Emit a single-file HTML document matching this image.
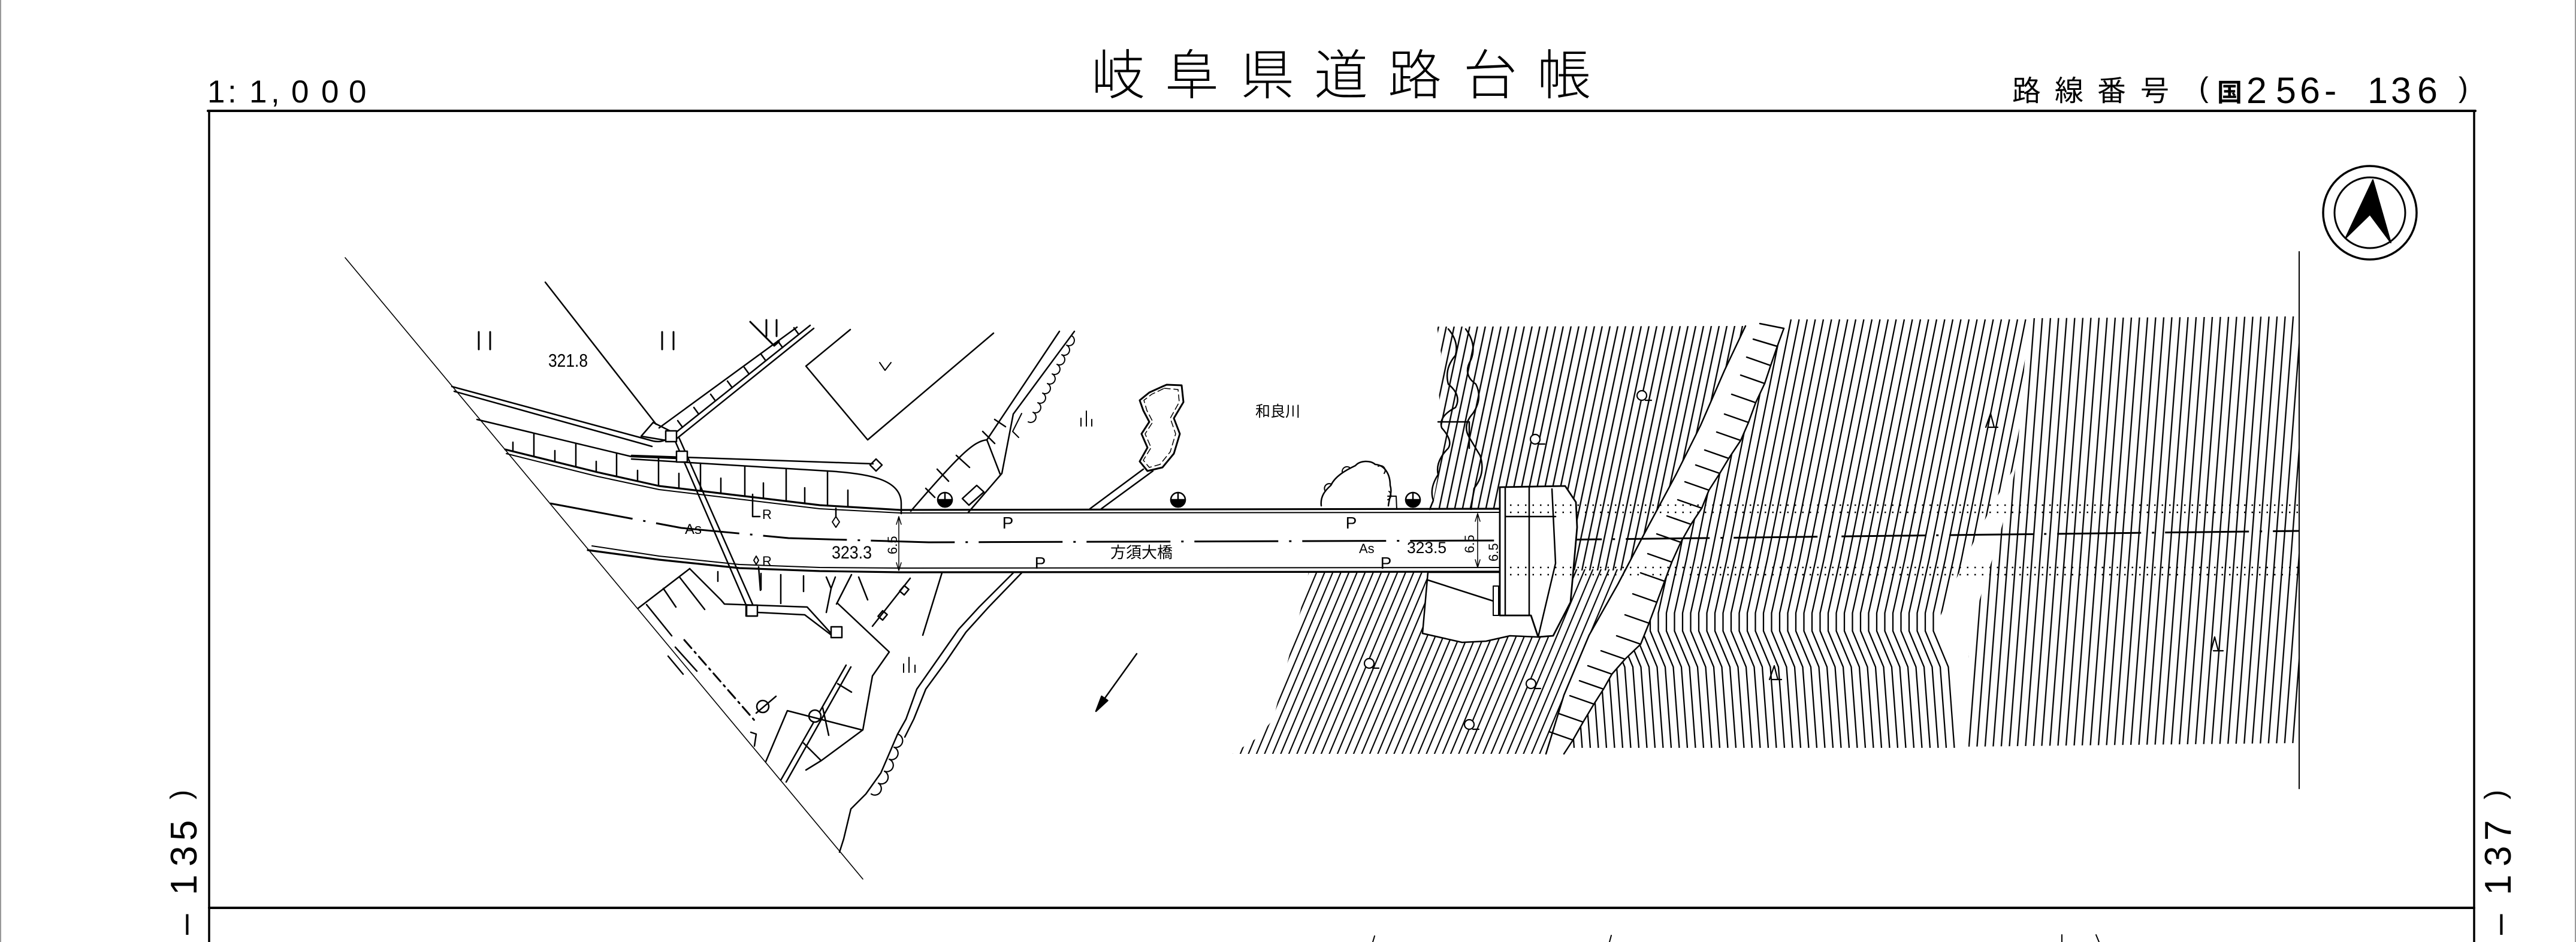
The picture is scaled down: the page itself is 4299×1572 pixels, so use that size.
<!DOCTYPE html>
<html><head><meta charset="utf-8"><style>
html,body{margin:0;padding:0;background:#fff;}
svg{display:block;}
</style></head><body>
<svg xmlns="http://www.w3.org/2000/svg" width="4299" height="1572" viewBox="0 0 4299 1572">
<defs>
<pattern id="pAR" patternUnits="userSpaceOnUse" width="13.5" height="50" patternTransform="skewX(-4.4)"><rect x="5.6" y="0" width="2.3" height="50" fill="#000"/></pattern>
<pattern id="pBU" patternUnits="userSpaceOnUse" width="13" height="50" patternTransform="skewX(-11.9)"><rect x="5.4" y="0" width="2.4" height="50" fill="#000"/></pattern>
<pattern id="pBL" patternUnits="userSpaceOnUse" width="13.5" height="50" patternTransform="skewX(-22.8)"><rect x="5.6" y="0" width="2.3" height="50" fill="#000"/></pattern>
<clipPath id="cAL"><polygon points="2977,531 2977,548 2966,578 2955,610 2945,640 2930,672 2918,705 2905,735 2885,765 2870,790 2852,818 2840,848 2822,875 2805,905 2790,938 2778,970 2765,1005 2752,1040 2738,1075 2712,1100 2690,1125 2676,1150 2660,1175 2642,1205 2625,1235 2610,1258 3267,1248 3261,1138 3243,1076 3233,1041 3261,974 3292,908 3328,837 3365,775 3385,531"/></clipPath>
<path id="al" d="M0 0 L-40 200 L-80 400 L-100 490 L-100 520 L-75 580 L-65 715" fill="none" stroke="#000" stroke-width="2.3"/>
</defs>
<rect width="4299" height="1572" fill="#fff"/>
<line x1="1" y1="0" x2="1" y2="1572" stroke="#999" stroke-width="2"/>
<line x1="4298" y1="0" x2="4298" y2="1572" stroke="#999" stroke-width="2"/>

<!-- contour hatching -->
<polygon points="3385,531 3836,528 3836,1240 3285,1246 3285,1097 3292,1041 3307,990 3328,923 3347,857 3365,775" fill="url(#pAR)"/>
<polygon points="2398,545 2913,544 2878,618 2838,710 2797,792 2745,889 2713,952 2390,952 2392,835 2400,792 2406,714 2400,640 2405,590" fill="url(#pBU)"/>
<polygon points="2185,950 2713,950 2700,975 2652,1060 2610,1160 2580,1258 2057,1258 2100,1230 2125,1200 2150,1100 2170,1020" fill="url(#pBL)"/>
<g clip-path="url(#cAL)">
<use href="#al" x="2665" y="533"/><use href="#al" x="2678.5" y="533"/><use href="#al" x="2692" y="533"/><use href="#al" x="2705.5" y="533"/><use href="#al" x="2719" y="533"/><use href="#al" x="2732.5" y="533"/><use href="#al" x="2746" y="533"/><use href="#al" x="2759.5" y="533"/><use href="#al" x="2773" y="533"/><use href="#al" x="2786.5" y="533"/>
<use href="#al" x="2800" y="533"/><use href="#al" x="2813.5" y="533"/><use href="#al" x="2827" y="533"/><use href="#al" x="2840.5" y="533"/><use href="#al" x="2854" y="533"/><use href="#al" x="2867.5" y="533"/><use href="#al" x="2881" y="533"/><use href="#al" x="2894.5" y="533"/><use href="#al" x="2908" y="533"/><use href="#al" x="2921.5" y="533"/>
<use href="#al" x="2935" y="533"/><use href="#al" x="2948.5" y="533"/><use href="#al" x="2962" y="533"/><use href="#al" x="2975.5" y="533"/><use href="#al" x="2989" y="533"/><use href="#al" x="3002.5" y="533"/><use href="#al" x="3016" y="533"/><use href="#al" x="3029.5" y="533"/><use href="#al" x="3043" y="533"/><use href="#al" x="3056.5" y="533"/>
<use href="#al" x="3070" y="533"/><use href="#al" x="3083.5" y="533"/><use href="#al" x="3097" y="533"/><use href="#al" x="3110.5" y="533"/><use href="#al" x="3124" y="533"/><use href="#al" x="3137.5" y="533"/><use href="#al" x="3151" y="533"/><use href="#al" x="3164.5" y="533"/><use href="#al" x="3178" y="533"/><use href="#al" x="3191.5" y="533"/>
<use href="#al" x="3205" y="533"/><use href="#al" x="3218.5" y="533"/><use href="#al" x="3232" y="533"/><use href="#al" x="3245.5" y="533"/><use href="#al" x="3259" y="533"/><use href="#al" x="3272.5" y="533"/><use href="#al" x="3286" y="533"/><use href="#al" x="3299.5" y="533"/><use href="#al" x="3313" y="533"/><use href="#al" x="3326.5" y="533"/>
<use href="#al" x="3340" y="533"/><use href="#al" x="3353.5" y="533"/><use href="#al" x="3367" y="533"/><use href="#al" x="3380.5" y="533"/><use href="#al" x="3394" y="533"/><use href="#al" x="3407.5" y="533"/><use href="#al" x="3421" y="533"/>
</g>

<!-- white overlays -->
<polygon points="843,750 997,788 1100,811 1234,827 1368,843 1502,851 2505,849 2505,954 1502,955 1368,953 1234,948 1100,934 981,918" fill="#fff"/>

<g fill="none" stroke="#000" stroke-width="2.5" stroke-linecap="round" stroke-linejoin="round">
<!-- frame -->
<line x1="347" y1="185" x2="4131" y2="185" stroke-width="4"/>
<line x1="349" y1="185" x2="349" y2="1572" stroke-width="3.5"/>
<line x1="4129" y1="185" x2="4129" y2="1572" stroke-width="3.5"/>
<line x1="349" y1="1515" x2="4129" y2="1515" stroke-width="4"/>
<path d="M2294 1562 L2291 1572 M2689 1561 L2686 1572 M3441 1560 L3441 1572 M3498 1560 L3503 1572" stroke-width="2"/>

<!-- north arrow -->
<circle cx="3955" cy="355" r="78" stroke-width="3.5"/>
<circle cx="3955" cy="355" r="59" stroke-width="3"/>
<polygon points="3960,300 3914,398 3955,358 3990,405" fill="#000" stroke-width="2"/>
<line x1="3837" y1="420" x2="3837" y2="1316" stroke-width="2"/>

<!-- left diagonal boundary -->
<line x1="576" y1="430" x2="1440" y2="1467" stroke-width="1.6"/>
<path d="M910 471 L1095 708"/>
<polygon points="1070,728 1090,705 1120,720 1112,735"/>
<path d="M799 554 V583 M818 554 V583 M1105 554 V583 M1124 554 V583 M1279 534 V561 M1296 534 V561 M1252 537 L1292 577 L1300 570" stroke-width="3"/>
<path d="M754 645 L1090 736 Q1110 740 1118 726"/>
<path d="M758 653 L1088 745"/>
<path d="M1100 714 L1330 546"/>
<path d="M1120 728 L1352 543"/>
<path d="M1128 733 L1358 548"/>
<path d="M1139 713 l-8 -11 M1166 691 l-8 -11 M1194 669 l-8 -11 M1222 647 l-8 -11 M1250 624 l-8 -11 M1278 602 l-8 -11 M1306 580 l-8 -11 M1333 558 l-8 -11"/>
<path d="M1419 550 L1345 611 L1448 734 L1658 556"/>
<path d="M1468 605 L1477 618 L1487 605" stroke-width="2"/>
<path d="M796 700 L1054 762 L1130 765"/>
<path d="M1054 760 L1457 774"/>
<path d="M1054 766 L1381 786 C1450 790 1504 800 1504 840 L1504 857"/>
<polygon points="1462,766 1472,776 1462,786 1452,776"/>
<path d="M891 723 V762 M961 740 V779 M1029 756 V795 M1099 764 V811 M856 738 V753 M926 752 V770 M995 770 V787 M1064 785 V802"/>
<path d="M1169 773 V819 M1243 778 V828 M1312 782 V836 M1381 786 V844 M1133 790 V815 M1203 798 V823 M1274 806 V832 M1343 814 V840 M1415 818 V846"/>
<path d="M843 750 L997 788 L1100 811 L1234 827 L1368 843 L1502 851 L2505 849" stroke-width="3.2"/>
<path d="M845 757 L997 795 L1100 817 L1234 833 L1368 849 L1502 856 L2505 855" stroke-width="2"/>
<path d="M981 918 L1100 934 L1234 948 L1368 953 L1502 955 L2505 954" stroke-width="3.2"/>
<path d="M988 911 L1100 928 L1234 942 L1368 947 L1502 948 L2505 947" stroke-width="2"/>
<path d="M918 840 L1137 881 L1316 898 L1550 905 L2505 902 L3836 886" stroke-width="3" stroke-dasharray="140 18 4 18" stroke-linecap="butt"/>
<path d="M1125 732 L1247 1014 M1133 730 L1258 1013"/>
<rect x="1111" y="719" width="18" height="18" fill="#fff"/>
<rect x="1129" y="753" width="18" height="18" fill="#fff"/>
<rect x="1245" y="1010" width="18" height="18" fill="#fff"/>
<path d="M1256 825 V862 H1268"/>
<polygon points="1262,928 1266,935 1262,942 1258,935" stroke-width="2"/>
<path d="M1266 946 L1269 985"/>
<path d="M1395 848 V862"/>
<polygon points="1395,862 1401,871 1395,880 1389,871" stroke-width="2"/>
<path d="M1500 862 V952 M1496 875 L1500 862 L1504 875 M1496 939 L1500 952 L1504 939" stroke-width="1.5"/>

<!-- below road, left -->
<path d="M1065 1015 L1151 949"/>
<path d="M1079 1009 L1121 1061 M1107 982 L1128 1013 M1134 963 L1176 1017"/>
<path d="M1151 949 L1203 1001 L1209 1008 L1347 1013 L1387 1057"/>
<path d="M1264 1022 L1343 1026 L1389 1061"/>
<rect x="1246" y="1010" width="18" height="18" fill="#fff"/>
<rect x="1387" y="1046" width="18" height="18" fill="#fff"/>
<path d="M1198 954 V970 M1270 957 V984 M1303 959 V1007 M1341 961 V987"/>
<path d="M1379 963 L1387 982 L1394 963 M1387 982 L1379 1022"/>
<path d="M1421 959 L1396 1008 M1433 963 L1448 1001 M1519 965 L1456 1045"/>
<path d="M1398 1007 L1484 1088 L1456 1128 L1440 1218 L1371 1269 L1345 1285"/>
<rect x="1503" y="980" width="12" height="10" transform="rotate(-50 1509 985)"/>
<rect x="1467" y="1022" width="12" height="10" transform="rotate(-50 1473 1027)"/>
<path d="M1303 1302 L1412 1110 M1312 1305 L1420 1113"/>
<circle cx="1360" cy="1195" r="10" fill="#fff"/>
<path d="M1278 1271 L1314 1186 L1438 1218"/>
<path d="M1398 1141 L1421 1155 M1373 1181 L1383 1227 M1341 1240 L1370 1269"/>
<path d="M1142 1068 L1259 1202" stroke-dasharray="18 8 3 8" stroke-width="3"/>
<circle cx="1273" cy="1179" r="10" fill="#fff"/>
<path d="M1262 1190 L1295 1162 M1253 1222 L1262 1225 L1259 1245"/>
<path d="M1127 1080 L1163 1120 M1115 1095 L1140 1125"/>
<path d="M1691 956 L1634 1013 L1600 1050 L1565 1100 L1530 1150 L1512 1200 L1498 1225 L1470 1290 L1445 1325 L1420 1350 L1408 1400 L1401 1422"/>
<path d="M1705 956 L1650 1013 L1612 1055 L1578 1105 L1545 1150 L1525 1200 L1510 1230"/>
<path d="M1572 956 L1540 1060"/>
<path d="M1498 1225 a10 10 0 0 1 -6 22 a10 10 0 0 1 -8 20 a10 10 0 0 1 -8 20 a10 10 0 0 1 -10 20 a10 10 0 0 1 -12 18" stroke-width="2.2"/>
<path d="M1508 1108 V1122 M1517 1097 V1122 M1527 1110 V1122" stroke-width="2"/>
<path d="M1897 1091 L1836 1176" stroke-width="2.5"/>
<polygon points="1829,1187 1848.5,1169 1838.5,1162" fill="#000"/>

<!-- embankment structure -->
<path d="M1768 553 L1647 734 C1625 736 1600 760 1520 853"/>
<path d="M1793 553 L1691 691 L1672 790 L1616 855"/>
<path d="M1647 734 L1669 791"/>
<path d="M1596 760 L1618 780 M1564 783 L1583 803 M1545 815 L1560 830 M1640 720 L1660 740 M1660 700 L1678 712"/>
<polygon points="1606,832 1630,810 1642,821 1617,843"/>
<path d="M1788 560 a8 8 0 1 1 -8 16 a8 8 0 1 1 -8 16 a8 8 0 1 1 -8 16 a8 8 0 1 1 -8 16 a8 8 0 1 1 -8 16 a8 8 0 1 1 -8 16 a8 8 0 1 1 -8 16 a8 8 0 1 1 -8 16 a8 8 0 1 1 -8 16" stroke-width="2"/>
<path d="M1705 690 L1690 720 L1700 730" stroke-width="2"/>
<!-- island -->
<path d="M1947 642 L1972 643 L1975 671 L1959 698 L1969 724 L1959 757 L1940 780 L1915 786 L1902 770 L1915 747 L1905 724 L1918 704 L1908 685 L1902 668 L1918 655 L1940 645 Z" stroke-width="3"/>
<path d="M1943 648 L1966 650 L1968 671 L1953 698 L1962 724 L1953 754 L1936 775 L1918 780 L1908 768 L1921 747 L1911 724 L1924 704 L1914 685 L1909 668 L1922 658 Z" stroke-width="1.5" stroke-dasharray="10 6"/>
<path d="M1908 783 L1819 849 M1924 786 L1838 849"/>
<path d="M1804 698 V711 M1813 686 V711 M1822 700 V711" stroke-width="2"/>
<!-- tree near bridge -->
<path d="M2205 844 C2203 828 2212 818 2221 810 C2228 795 2245 785 2262 777 C2270 768 2287 768 2295 775 C2310 776 2320 790 2320 810 C2324 822 2318 832 2317 844" stroke-width="2.5"/>
<path d="M2212 820 a8 8 0 0 1 10 -12 M2240 788 a8 8 0 0 1 12 -8 M2300 778 a8 8 0 0 1 10 12 M2318 820 a8 8 0 0 1 -2 14" stroke-width="2"/>
<path d="M2316 828 L2330 828 L2331 850" stroke-width="2"/>

<g stroke-width="2.5">
<circle cx="1577" cy="834" r="12" fill="#fff"/><path d="M1565 834 A12 12 0 0 0 1589 834 Z" fill="#000"/><path d="M1577 822 V834"/>
<circle cx="1966" cy="834" r="12" fill="#fff"/><path d="M1954 834 A12 12 0 0 0 1978 834 Z" fill="#000"/><path d="M1966 822 V834"/>
<circle cx="2358" cy="834" r="12" fill="#fff"/><path d="M2346 834 A12 12 0 0 0 2370 834 Z" fill="#000"/><path d="M2358 822 V834"/>
</g>

<path d="M2417 549 Q2435 570 2429 593 Q2410 615 2417 641 Q2440 660 2429 680 Q2400 695 2406 714 Q2425 735 2417 748 Q2395 770 2400 792 Q2385 815 2392 835 L2386 850" stroke-width="2.5"/>
<path d="M2446 549 Q2465 575 2455 600 Q2440 625 2463 641 Q2475 665 2458 690 Q2440 710 2452 730 L2470 760 Q2480 790 2460 815 L2455 850" stroke-width="2.5"/>
<path d="M2400 704 L2452 704 L2452 748" stroke-width="2.5"/>

<!-- slope band -->
<path d="M2913 544 L2878 618 L2838 710 L2797 792 L2745 889 L2700 975 L2652 1060 L2610 1160 L2580 1258" stroke-width="2.5"/>
<path d="M2977 548 L2966 578 L2955 610 L2945 640 L2930 672 L2918 705 L2905 735 L2885 765 L2870 790 L2852 818 L2840 848 L2822 875 L2805 905 L2790 938 L2778 970 L2765 1005 L2752 1040 L2738 1075 L2712 1100 L2690 1125 L2676 1150 L2660 1175 L2642 1205 L2625 1235 L2610 1258" stroke-width="2.5"/>
<path d="M2977 548 l-40 -8 M2966 578 l-40 -12 M2955 610 l-40 -14 M2945 640 l-40 -14 M2930 672 l-40 -14 M2918 705 l-40 -14 M2905 735 l-40 -14 M2885 765 l-40 -14 M2870 790 l-40 -14 M2852 818 l-40 -14 M2840 848 l-40 -14 M2822 875 l-40 -14 M2805 905 l-40 -14 M2790 938 l-40 -14 M2778 970 l-40 -14 M2765 1005 l-40 -14 M2752 1040 l-40 -14 M2738 1075 l-40 -14 M2712 1100 l-40 -14 M2690 1125 l-40 -14 M2676 1150 l-40 -14 M2660 1175 l-40 -14 M2642 1205 l-40 -14 M2625 1235 l-40 -14" stroke-width="2.5"/>

<!-- abutment -->
<polygon points="2383,955 2503,955 2503,1027 2555,1027 2567,1063 2520,1061 2480,1070 2440,1072 2374,1057" fill="#fff" stroke-width="2.5"/>
<polygon points="2503,813 2612,811 2630,838 2632,880 2621,1005 2592,1061 2567,1063 2555,1027 2503,1027" fill="#fff" stroke-width="2.8"/>
<path d="M2512 813 V1027 M2552 813 V1027 M2590 816 L2596 940 L2567 1063 M2512 862 H2596 M2383 968 L2492 1003"/>
<rect x="2492" y="978" width="9" height="49" fill="#fff" stroke-width="2"/>
<path d="M2466 857 V947 M2462 870 L2466 857 L2470 870 M2462 934 L2466 947 L2470 934" stroke-width="1.5"/>
<path d="M2520 843 H3836 M2520 855 H3836 M2520 947 H3836 M2520 959 H3836" stroke-width="2.5" stroke-dasharray="2.5 10" stroke-linecap="butt"/>

<g stroke-width="2.2">
<circle cx="2740" cy="660" r="8" fill="#fff"/><path d="M2746 668 H2756"/>
<circle cx="2562" cy="733" r="8" fill="#fff"/><path d="M2568 741 H2578"/>
<circle cx="2285" cy="1107" r="8" fill="#fff"/><path d="M2291 1115 H2301"/>
<circle cx="2555" cy="1141" r="8" fill="#fff"/><path d="M2561 1149 H2571"/>
<circle cx="2452" cy="1209" r="8" fill="#fff"/><path d="M2458 1217 H2468"/>
<path d="M3314 713 L3322 690 L3328 713 M3318 713 H3334"/>
<path d="M2953 1134 L2961 1111 L2967 1134 M2957 1134 H2973"/>
<path d="M3690 1086 L3696 1063 L3702 1086 M3694 1086 H3710"/>
</g>
</g>

<!-- texts -->
<g fill="#000" font-family="'Liberation Sans','Noto Sans CJK JP',sans-serif">
<text x="346 380 416 452 486 536 582" y="171" font-size="53">1:1,000</text>
<text x="1821 1944 2070 2193 2316 2442 2565" y="157" font-size="90" font-family="'Noto Sans CJK JP',sans-serif" font-weight="300">岐阜県道路台帳</text>
<text x="3358 3429 3500 3572" y="168" font-size="48" font-family="'Noto Sans CJK JP',sans-serif">路線番号</text>
<text x="3670" y="162" font-size="47">(</text>
<text x="3700" y="169" font-size="42" font-family="'Noto Sans CJK JP',sans-serif" font-weight="bold">国</text>
<text x="3749 3798 3838 3879" y="172" font-size="61">256-</text>
<text x="3951 3990 4034" y="172" font-size="61">136</text>
<text x="4103" y="162" font-size="47">)</text>

<g transform="rotate(-90)" font-size="62">
<text x="-1560" y="328">–</text><text x="-1494" y="328">1</text><text x="-1446" y="328">3</text><text x="-1403" y="328">5</text>
<text x="-1560" y="4190">–</text><text x="-1494" y="4190">1</text><text x="-1446" y="4190">3</text><text x="-1403" y="4190">7</text>
</g>
<text transform="rotate(-90)" x="-1334" y="318" font-size="48">)</text>
<text transform="rotate(-90)" x="-1334" y="4180" font-size="48">)</text>

<text x="915" y="612" font-size="31" textLength="66" lengthAdjust="spacingAndGlyphs">321.8</text>
<text x="1143" y="891" font-size="24">As</text>
<text x="1272" y="866" font-size="22">R</text>
<text x="1272" y="944" font-size="22">R</text>
<text x="1388" y="932" font-size="30" textLength="67" lengthAdjust="spacingAndGlyphs">323.3</text>
<text transform="translate(1497,925) rotate(-90)" font-size="22">6.5</text>
<text x="1682" y="882" font-size="28" text-anchor="middle">P</text>
<text x="2255" y="882" font-size="28" text-anchor="middle">P</text>
<text x="1736" y="949" font-size="28" text-anchor="middle">P</text>
<text x="2313" y="949" font-size="28" text-anchor="middle">P</text>
<text x="1853" y="931" font-size="26">方須大橋</text>
<text x="2095" y="695" font-size="25">和良川</text>
<text x="2268" y="923" font-size="22">As</text>
<text x="2348" y="923" font-size="27" textLength="66" lengthAdjust="spacingAndGlyphs">323.5</text>
<text transform="translate(2460,923) rotate(-90)" font-size="22">6.5</text>
<text transform="translate(2500,937) rotate(-90)" font-size="22">6.5</text>
</g>
</svg>
</body></html>
